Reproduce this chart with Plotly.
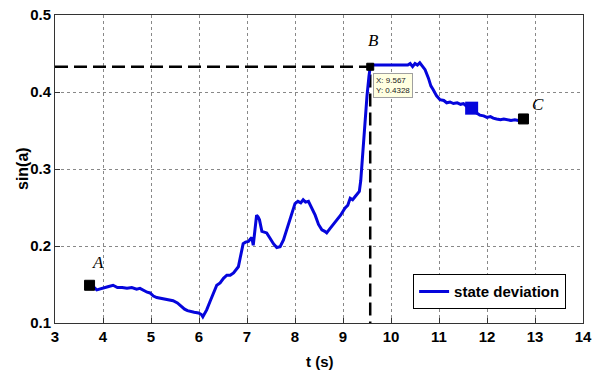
import plotly.graph_objects as go

# Time samples (s) and sin(a) values of the state deviation trace
t = [3.75, 3.80, 3.87, 3.94, 4.02, 4.10, 4.21, 4.30, 4.40, 4.50, 4.60, 4.70, 4.77, 4.85,
     4.92, 4.98, 5.05, 5.12, 5.19, 5.27, 5.35, 5.46, 5.55, 5.63, 5.70, 5.76, 5.81, 5.90,
     5.99, 6.05, 6.08, 6.12, 6.16, 6.23, 6.30, 6.37, 6.44, 6.51, 6.58, 6.65, 6.72, 6.78,
     6.82, 6.86, 6.90, 6.92, 6.97, 7.03, 7.07, 7.10, 7.13, 7.16, 7.20, 7.23, 7.26, 7.31,
     7.36, 7.41, 7.48, 7.55, 7.62, 7.69, 7.76, 7.83, 7.92, 8.00, 8.06, 8.12, 8.17, 8.22,
     8.28, 8.35, 8.42, 8.49, 8.56, 8.62, 8.66, 8.72, 8.80, 8.87, 8.95, 9.04, 9.10, 9.15,
     9.20, 9.25, 9.30, 9.34, 9.37, 9.39, 9.42, 9.46, 9.50, 9.54, 9.567,
     9.60, 9.80, 10.00, 10.20, 10.35, 10.40, 10.45, 10.50, 10.55, 10.60, 10.65, 10.71,
     10.78, 10.83, 10.88, 10.95, 11.02, 11.10, 11.16, 11.23, 11.30, 11.38, 11.45, 11.51,
     11.60, 11.70, 11.78, 11.85, 11.93, 12.00, 12.07, 12.13, 12.20, 12.28, 12.35, 12.41,
     12.50, 12.58, 12.65, 12.74]
sin_a = [0.148, 0.147, 0.143, 0.144, 0.146, 0.147, 0.149, 0.146, 0.146, 0.145, 0.146, 0.144,
         0.145, 0.142, 0.140, 0.139, 0.135, 0.133, 0.132, 0.131, 0.130, 0.129, 0.126, 0.121,
         0.118, 0.116, 0.115, 0.114, 0.113, 0.111, 0.108, 0.112, 0.117, 0.128, 0.139, 0.149,
         0.152, 0.158, 0.162, 0.162, 0.165, 0.170, 0.173, 0.185, 0.197, 0.203, 0.205, 0.206,
         0.209, 0.211, 0.201, 0.222, 0.240, 0.238, 0.234, 0.219, 0.218, 0.217, 0.210, 0.203,
         0.198, 0.199, 0.208, 0.221, 0.240, 0.255, 0.258, 0.256, 0.260, 0.257, 0.258, 0.250,
         0.240, 0.228, 0.221, 0.219, 0.217, 0.222, 0.228, 0.234, 0.240, 0.249, 0.253, 0.262,
         0.260, 0.264, 0.268, 0.271, 0.285, 0.303, 0.325, 0.360, 0.395, 0.420, 0.4328,
         0.435, 0.435, 0.435, 0.435, 0.435, 0.437, 0.433, 0.437, 0.435, 0.438, 0.434, 0.429,
         0.418, 0.408, 0.403, 0.395, 0.390, 0.389, 0.386, 0.387, 0.385, 0.386, 0.384, 0.385,
         0.380, 0.376, 0.372, 0.370, 0.369, 0.367, 0.368, 0.366, 0.365, 0.364, 0.365, 0.364,
         0.363, 0.364, 0.363, 0.364]

# Labelled points A, B, C and the data tip at B
point_names = ["A", "B", "C"]
point_t = [3.72, 9.567, 12.76]
point_y = [0.149, 0.4328, 0.365]
tip_t, tip_y = 9.567, 0.4328
blob_t, blob_y = [11.68], [0.379]

x_ticks = list(range(3, 15))
y_ticks = [0.1, 0.2, 0.3, 0.4, 0.5]

BLUE = "#0505dc"
SANS = "Liberation Sans, Arial, sans-serif"
tick_font = dict(family=SANS, size=15, color="black")

fig = go.Figure()

# Dashed guide lines to point B
fig.add_trace(go.Scatter(x=[3, tip_t, tip_t], y=[tip_y, tip_y, 0.1], mode="lines",
                         line=dict(color="black", width=2.5, dash="13px,6px"),
                         showlegend=False, hoverinfo="skip"))

fig.add_trace(go.Scatter(x=t, y=sin_a, mode="lines", name="<b>state deviation</b>",
                         line=dict(color=BLUE, width=3)))

fig.add_trace(go.Scatter(x=blob_t, y=blob_y, mode="markers", showlegend=False,
                         marker=dict(symbol="square", size=13, color=BLUE,
                                     line=dict(color=BLUE, width=0))))

fig.add_trace(go.Scatter(x=point_t, y=point_y, mode="markers", showlegend=False,
                         marker=dict(symbol="square", size=[10, 7, 10], color="black",
                                     opacity=1, line=dict(color="black", width=1))))

# Italic point labels
label_pos = [(3.9, 0.179), (9.63, 0.4675), (13.06, 0.384)]
for name, (lx, ly) in zip(point_names, label_pos):
    fig.add_annotation(x=lx, y=ly, text=name, showarrow=False,
                       font=dict(family="Liberation Serif, Times New Roman", size=17,
                                 color="black", style="italic"))

# Data tip box
fig.add_annotation(x=9.63, y=0.4247, xanchor="left", yanchor="top", showarrow=False,
                   text=f"X: {tip_t}<br>Y: {tip_y}", align="left",
                   bgcolor="#ffffe1", bordercolor="#a0a0a0", borderwidth=1, borderpad=2,
                   font=dict(family=SANS, size=8, color="#222"))

# Axis titles
fig.add_annotation(xref="paper", yref="paper", x=0.502, y=-0.092, xanchor="center",
                   yanchor="top", text="<b>t (s)</b>", showarrow=False,
                   font=dict(family=SANS, size=15, color="black"))
fig.add_annotation(xref="paper", yref="paper", x=-0.0625, y=0.5, xanchor="center",
                   yanchor="middle", text="<b>sin(a)</b>", textangle=-90, showarrow=False,
                   font=dict(family=SANS, size=16, color="black"))

axis_common = dict(showline=True, linecolor="#333", linewidth=1, mirror=True,
                   ticks="inside", ticklen=5, tickcolor="#333",
                   showgrid=True, gridcolor="#888", gridwidth=1, griddash="dot",
                   zeroline=False, tickfont=tick_font, automargin=False)

fig.update_xaxes(range=[3, 14], tickvals=x_ticks,
                 ticktext=[f"<b>{v}</b>" for v in x_ticks], **axis_common)
fig.update_yaxes(range=[0.1, 0.5], tickvals=y_ticks,
                 ticktext=[f"<b>{v:.1f}</b>" for v in y_ticks], **axis_common)

fig.update_layout(
    width=593, height=372, autosize=False,
    margin=dict(l=55, r=10, t=15, b=49),
    plot_bgcolor="white", paper_bgcolor="white",
    legend=dict(x=0.968, y=0.045, xanchor="right", yanchor="bottom",
                bordercolor="black", borderwidth=1, bgcolor="white",
                font=dict(family=SANS, size=15, color="black"),
                itemwidth=30, tracegroupgap=0),
)

fig.write_html("out.html")
